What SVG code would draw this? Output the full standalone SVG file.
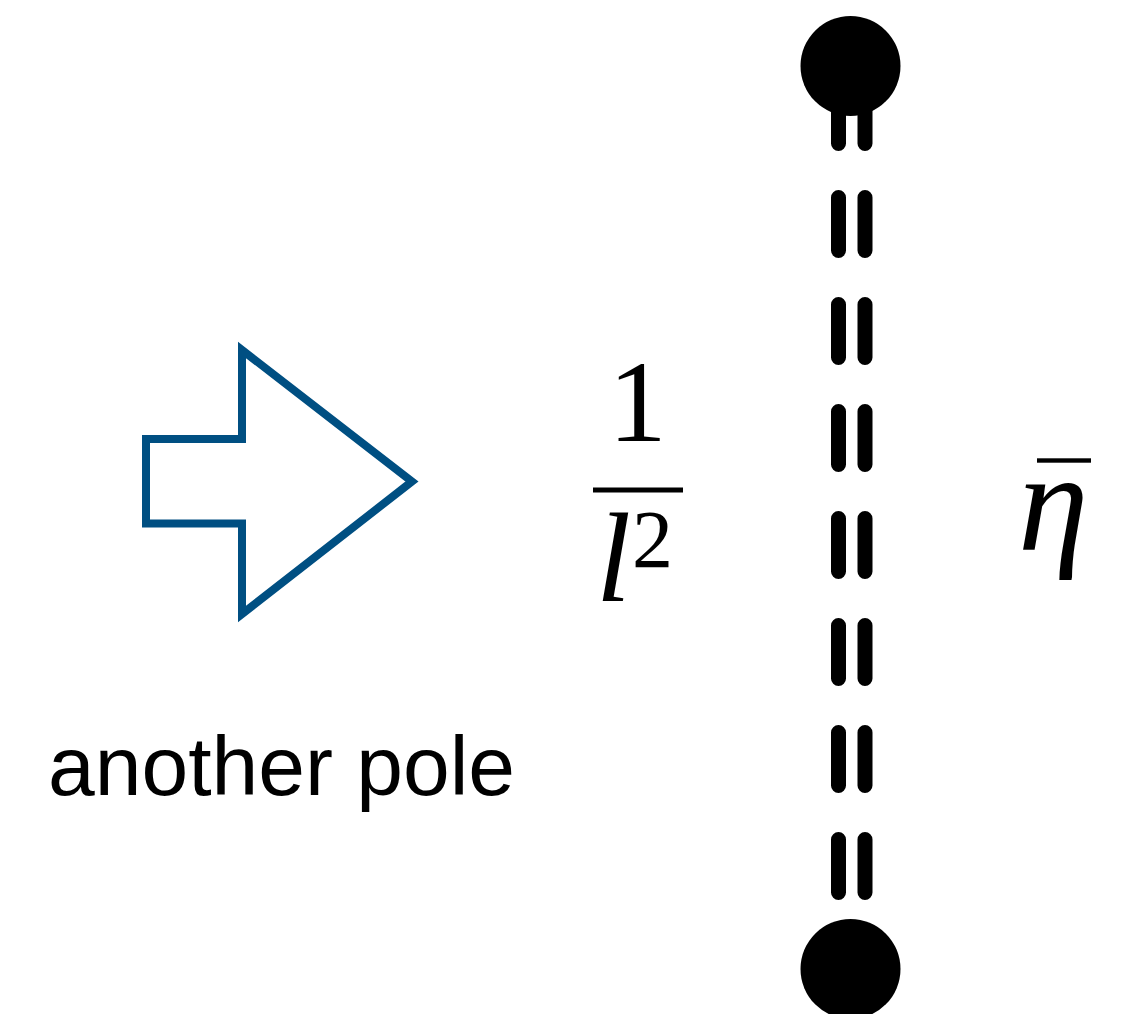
<svg xmlns="http://www.w3.org/2000/svg" width="1127" height="1014" viewBox="0 0 1127 1014">
<style>
.pole{fill:#000}
.dash{stroke:#000;stroke-width:15;stroke-linecap:round;stroke-dasharray:53 54;fill:none}
.math{font-family:"Liberation Serif","DejaVu Serif",serif;fill:#000}
.lbl{font-family:"Liberation Sans",Arial,sans-serif;fill:#000}
</style>
<rect width="1127" height="1014" fill="#fff"/>
<g id="connectors">
<line class="dash" x1="838.5" y1="90.5" x2="838.5" y2="893"/>
<line class="dash" x1="865" y1="90.5" x2="865" y2="893"/>
</g>
<g id="pole-top"><circle class="pole" cx="850.5" cy="66" r="50"/></g>
<g id="pole-bottom"><circle class="pole" cx="850.5" cy="969" r="50"/></g>
<g id="arrow">
<polygon points="146,439 242,439 242,350 412,481.5 242,614 242,523.5 146,523.5" fill="#fff" stroke="#004f82" stroke-width="8" stroke-linejoin="miter"/>
</g>
<g id="label-another-pole">
<text class="lbl" x="48" y="795" font-size="84">another pole</text>
</g>
<g id="fraction">
<text class="math" x="637.5" y="440.5" font-size="117" text-anchor="middle">1</text>
<rect x="593" y="487.5" width="90" height="5" fill="#000"/>
<text class="math" x="596" y="601" font-size="126" font-style="italic">l</text>
<text class="math" x="632" y="567" font-size="82">2</text>
</g>
<g id="eta">
<rect x="1037" y="458.3" width="54" height="4.4" fill="#000"/>
<text class="math" x="1018" y="550" font-size="142" font-style="italic">η</text>
</g>
</svg>
